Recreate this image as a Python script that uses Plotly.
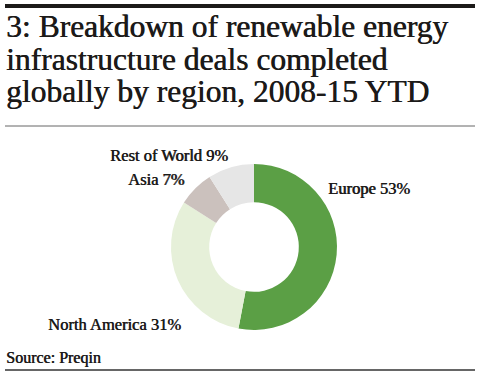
import plotly.graph_objects as go

labels = ["Europe", "North America", "Asia", "Rest of World"]
values = [53, 31, 7, 9]
colors = ["#5b9f45", "#e6f0d9", "#cbc1bd", "#e6e6e6"]
title_lines = ["3: Breakdown of renewable energy",
               "infrastructure deals completed",
               "globally by region, 2008-15 YTD"]
source = "Source: Preqin"

W, H = 480, 376
FONT = "Liberation Serif"
INK = "#1c1a19"
SHADOW = "0.6px 0 0 #1c1a19"

fig = go.Figure(go.Pie(
    labels=labels, values=values, hole=0.54, sort=False, direction="clockwise",
    rotation=0, marker=dict(colors=colors, line=dict(width=0)),
    textinfo="none", hoverinfo="label+percent", showlegend=False,
    domain=dict(x=[171 / W, 337 / W], y=[(376 - 330) / H, (376 - 164) / H]),
))

# label placements (pixels) for each slice
label_pos = {
    "Europe": (326, 188, "left"),
    "North America": (183, 324, "right"),
    "Asia": (187, 179, "right"),
    "Rest of World": (230, 155, "right"),
}
ann = []
for lab, v in zip(labels, values):
    x, y, anc = label_pos[lab]
    ann.append(dict(text=f"{lab} {v}%", x=x / W, y=1 - y / H, xref="paper", yref="paper",
                    xanchor=anc, yanchor="middle", showarrow=False,
                    font=dict(family=FONT, size=16.5, color=INK, shadow=SHADOW)))
for i, t in enumerate(title_lines):
    ann.append(dict(text=t, x=4 / W, y=1 - (26 + 33 * i) / H, xref="paper", yref="paper",
                    xanchor="left", yanchor="middle", showarrow=False,
                    font=dict(family=FONT, size=31.5, color=INK, shadow=SHADOW)))
ann.append(dict(text=source, x=4 / W, y=1 - 358 / H, xref="paper", yref="paper",
                xanchor="left", yanchor="middle", showarrow=False,
                font=dict(family=FONT, size=16, color=INK, shadow=SHADOW)))

shapes = [
    dict(type="line", xref="paper", yref="paper", x0=5 / W, x1=475 / W, y0=1 - 6 / H, y1=1 - 6 / H,
         line=dict(color=INK, width=4)),
    dict(type="line", xref="paper", yref="paper", x0=5 / W, x1=475 / W, y0=1 - 126 / H, y1=1 - 126 / H,
         line=dict(color="#666666", width=1)),
    dict(type="line", xref="paper", yref="paper", x0=5 / W, x1=475 / W, y0=1 - 370 / H, y1=1 - 370 / H,
         line=dict(color="#666666", width=2)),
]

fig.update_layout(width=W, height=H, margin=dict(l=0, r=0, t=0, b=0),
                  paper_bgcolor="white", plot_bgcolor="white",
                  annotations=ann, shapes=shapes)
fig.write_html("out.html", config={"displayModeBar": False},
               post_script="document.body.style.margin='0';")
